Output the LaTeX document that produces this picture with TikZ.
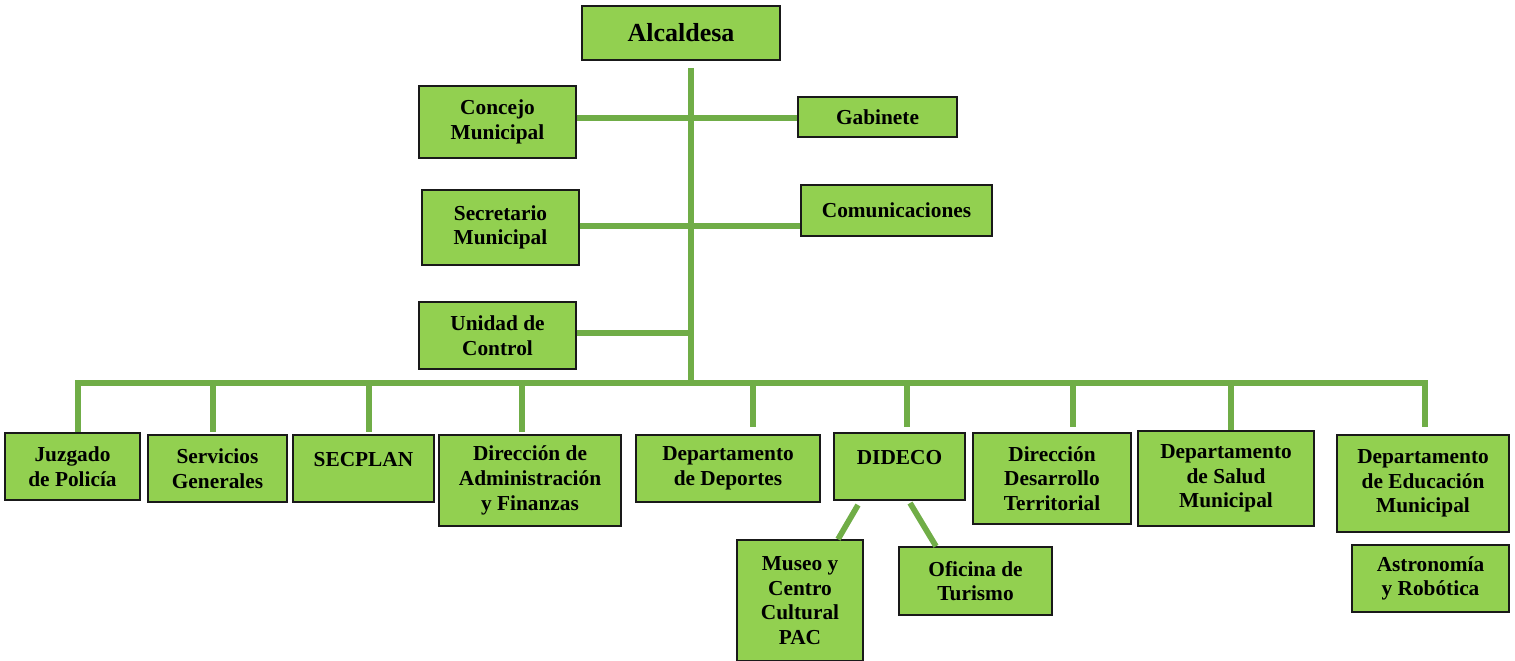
\documentclass[tikz,border=0pt]{standalone}
\usepackage{fontspec}
\setmainfont{Liberation Serif}
\usetikzlibrary{calc}
\definecolor{boxgreen}{HTML}{92D050}
\definecolor{linegreen}{HTML}{70AD47}
\tikzset{
  box/.style={draw=black!90, line width=1.1pt, fill=boxgreen, align=center, inner sep=0pt,
    font=\fontsize{16}{18.5}\selectfont\bfseries},
  conn/.style={draw=linegreen, line width=4.3pt},
}
\newcommand\bx[6]{%
  \pgfmathsetmacro\bw{(#4-#2)*0.75}%
  \pgfmathsetmacro\bh{(#5-#3)*0.75}%
  \node[box, minimum width=\bw pt, minimum height=\bh pt] (#1) at ({(#2+#4)/2},{(#3+#5)/2}) {#6};}
\begin{document}
\begin{tikzpicture}[x=0.75pt, y=-0.75pt]
\useasboundingbox (0,0) rectangle (1515,660);
% top
\bx{alc}{582}{6}{780}{60}{\fontsize{19.5}{22}\selectfont Alcaldesa}
\bx{conc}{419}{86}{576}{158}{Concejo\\Municipal}
\bx{gab}{798}{97}{957}{137}{Gabinete}
\bx{sec}{422}{190}{579}{265}{Secretario\\Municipal}
\bx{com}{801}{185}{992}{236}{Comunicaciones}
\bx{uni}{419}{302}{576}{369}{Unidad de\\Control}
% bottom row
\bx{jz}{5}{433}{140}{500}{Juzgado\\de Polic\'ia}
\bx{sg}{148}{435}{287}{502}{Servicios\\Generales}
\bx{secp}{293}{435}{434}{502}{SECPLAN\\[-5pt]\mbox{}}
\bx{daf}{439}{435}{621}{526}{Direcci\'on de\\Administraci\'on\\y Finanzas}
\bx{dep}{636}{435}{820}{502}{Departamento\\de Deportes}
\bx{did}{834}{433}{965}{500}{DIDECO\\[-5pt]\mbox{}}
\bx{ddt}{973}{433}{1131}{524}{Direcci\'on\\Desarrollo\\Territorial}
\bx{sal}{1138}{431}{1314}{526}{Departamento\\de Salud\\Municipal}
\bx{edu}{1337}{435}{1509}{532}{Departamento\\de Educaci\'on\\Municipal}
\bx{ast}{1352}{545}{1509}{612}{Astronom\'ia\\y Rob\'otica}
\bx{mus}{737}{540}{863}{661}{Museo y\\Centro\\Cultural\\PAC}
\bx{ofi}{899}{547}{1052}{615}{Oficina de\\Turismo}
% connectors
\coordinate (ttop) at (691,68);
\coordinate (tbot) at (691,383);
\draw[conn] (ttop) -- (tbot);
\draw[conn] (conc.east |- 0,118) -- (gab.west |- 0,118);
\draw[conn] (sec.east |- 0,226) -- (com.west |- 0,226);
\draw[conn] (uni.east |- 0,333) -- (tbot |- 0,333);
\coordinate (d1) at (78,383);
\coordinate (d2) at (213,383);
\coordinate (d3) at (369,383);
\coordinate (d4) at (522,383);
\coordinate (d5) at (753,383);
\coordinate (d6) at (907,383);
\coordinate (d7) at (1073,383);
\coordinate (d8) at (1231,383);
\coordinate (d9) at (1425,383);
\draw[conn] (d1 |- jz.north) -- (d1) -- (d9) -- (d9 |- 0,427);
\draw[conn] (d2) -- (d2 |- 0,432);
\draw[conn] (d3) -- (d3 |- 0,432);
\draw[conn] (d4) -- (d4 |- 0,432);
\draw[conn] (d5) -- (d5 |- 0,427);
\draw[conn] (d6) -- (d6 |- 0,427);
\draw[conn] (d7) -- (d7 |- 0,427);
\draw[conn] (d8) -- (d8 |- sal.north);
\coordinate (m1) at (858,505);
\coordinate (o1) at (910,503);
\draw[conn] (m1) -- (mus.north -| 838,0);
\draw[conn] (o1) -- (ofi.north -| 936,0);
\end{tikzpicture}
\end{document}
